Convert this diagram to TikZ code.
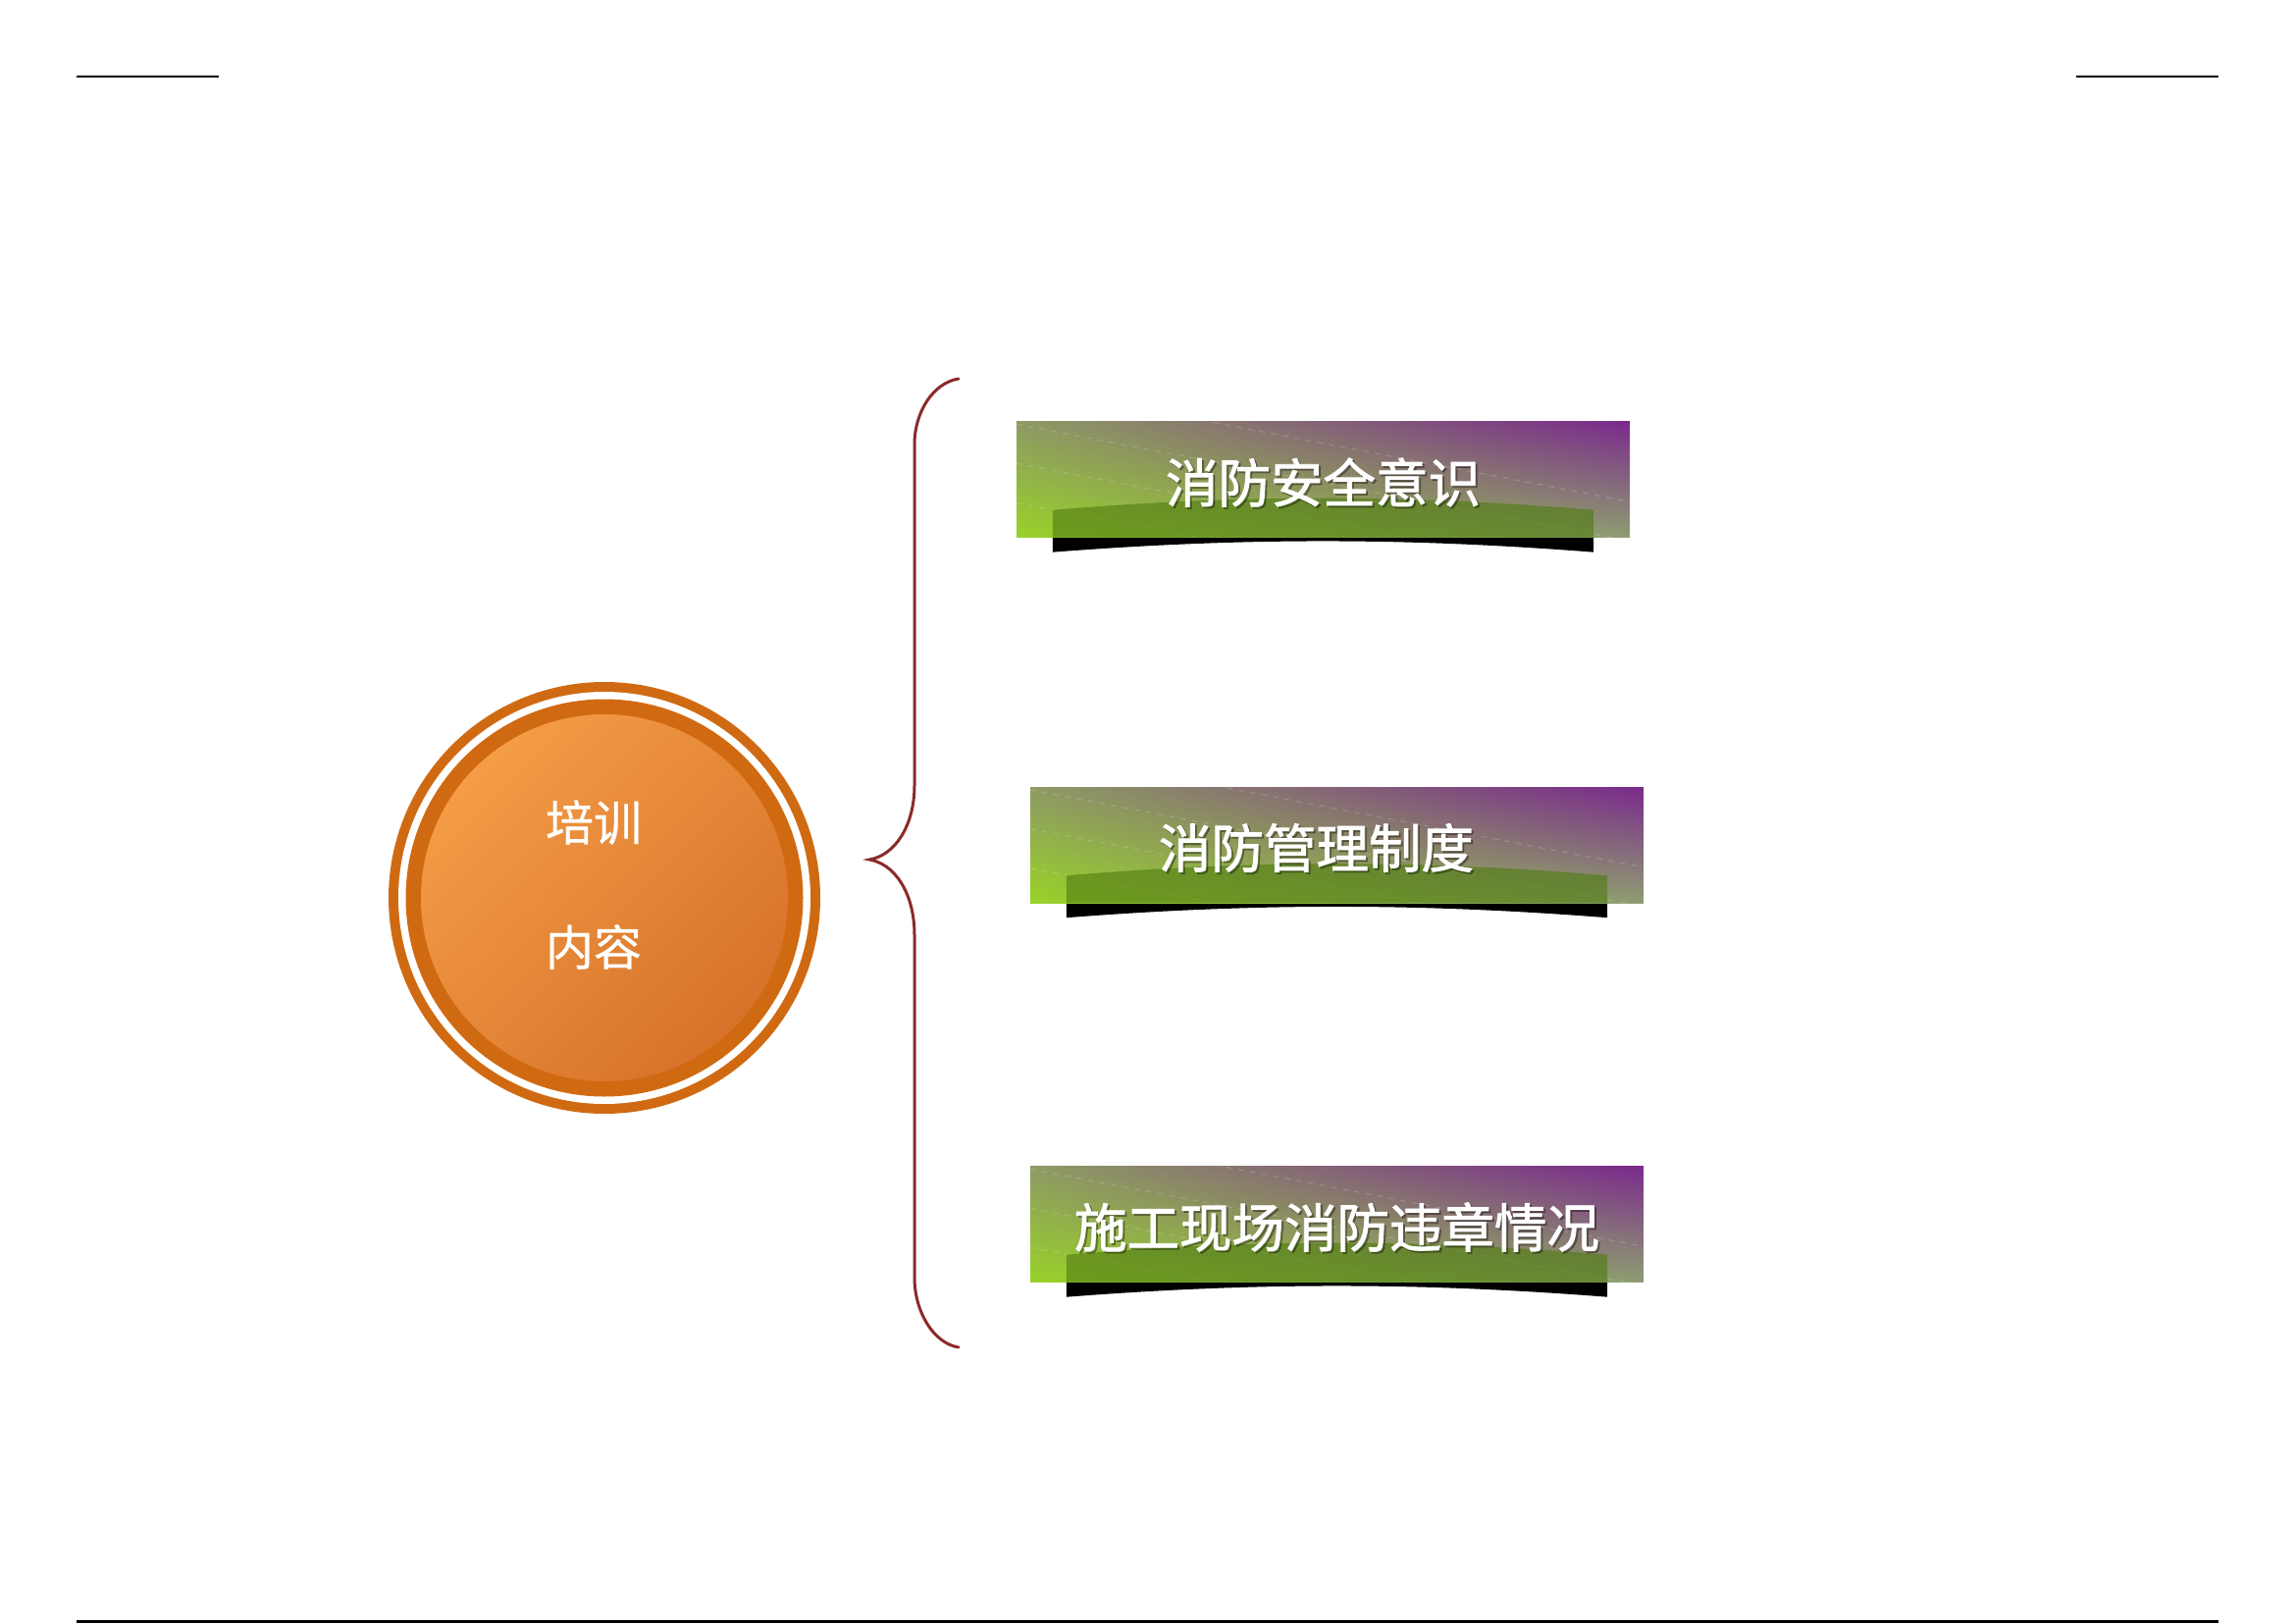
\documentclass[tikz,border=0pt]{standalone}
\usepackage{fontspec}
\newfontfamily\cjk[FakeBold=0.6]{Noto Sans CJK SC}
\newfontfamily\cjkb[FakeBold=1.5]{Noto Sans CJK SC}
\usetikzlibrary{calc,shadings}
\pgfdeclarelayer{paper}
\pgfdeclarelayer{background}
\pgfsetlayers{paper,background,main}
\definecolor{ringor}{HTML}{D06A12}
\definecolor{discA}{HTML}{F49C46}
\definecolor{discB}{HTML}{D6722A}
\definecolor{bracered}{HTML}{8B2A2A}
\definecolor{gUL}{HTML}{8E9A64}
\definecolor{gUR}{HTML}{7A2A8C}
\definecolor{gLL}{HTML}{98D228}
\definecolor{gLR}{HTML}{8E9C72}
\definecolor{ovl}{HTML}{4E7A10}
\tikzset{
  bannerbox/.style={rectangle, minimum width=625, minimum height=118, inner sep=0,
    shade, upper left=gUL, upper right=gUR, lower left=gLL, lower right=gLR},
  bantext/.style={text=white, inner sep=0, font=\cjkb\fontsize{53.5}{60}\selectfont},
  banshadow/.style={text=black, opacity=0.3, inner sep=0, font=\cjkb\fontsize{53.5}{60}\selectfont},
  circtext/.style={text=white, inner sep=0, font=\cjk\fontsize{49}{56}\selectfont},
  brace/.style={draw=bracered, line width=3, line cap=round},
  rule/.style={draw=black, line width=1.5},
}
\newcommand\mybanner[5]{%
  \node[bannerbox] (#1) at (#2,#3) {};
  \begin{scope}
    \clip (#1.south west) rectangle (#1.north east);
    \foreach \k in {-40,0,40,80} {
      \draw[white, opacity=0.18, dashed, line width=1, dash pattern=on 6 off 6]
        ($(#1.north west)+(0,\k+3)$) -- ($(#1.north east)+(0,\k+122)$);
    }
  \end{scope}
  \fill[ovl, opacity=0.6] ($(#1.south west)+(37,0)$) -- ($(#1.south west)+(37,-28)$)
    .. controls ($(#1.south west)+(230,-44)$) and ($(#1.south east)+(-230,-44)$) ..
    ($(#1.south east)+(-37,-28)$) -- ($(#1.south east)+(-37,0)$) -- cycle;
  \begin{pgfonlayer}{background}
    \fill[black] ($(#1.south west)+(37,-3)$) -- ($(#1.south west)+(37,15)$)
      .. controls ($(#1.south west)+(230,0)$) and ($(#1.south east)+(-230,0)$) ..
      ($(#1.south east)+(-37,15)$) -- ($(#1.south east)+(-37,-3)$) -- cycle;
  \end{pgfonlayer}
  \node[banshadow] (#1s) at ($(#1.center)+(#4+2,5)$) {#5};
  \node[bantext] (#1t) at ($(#1.center)+(#4,3)$) {#5};
}
\begin{document}
\begin{tikzpicture}[x=1pt,y=-1pt]
\useasboundingbox (0,0) rectangle (2339,1654);
\begin{pgfonlayer}{paper}
\fill[white] (0,0) rectangle (2339,1654);
\end{pgfonlayer}
% page rules
\coordinate (r1a) at (78,78); \coordinate (r1b) at (223,78);
\coordinate (r2a) at (2116,78); \coordinate (r2b) at (2261,78);
\coordinate (r3a) at (78,1652); \coordinate (r3b) at (2261,1652);
\draw[rule] (r1a) -- (r1b);
\draw[rule] (r2a) -- (r2b);
\draw[rule, line width=3] (r3a) -- (r3b);
% circle
\node[circle, fill=ringor, minimum size=440, inner sep=0] (cout) at (616,915) {};
\node[circle, fill=white, minimum size=420, inner sep=0] (cgap) at (cout.center) {};
\node[circle, fill=ringor, minimum size=405, inner sep=0] (cring) at (cout.center) {};
\shade[top color=discA, bottom color=discB, shading angle=45] (cout.center) circle (187);
\node[circtext] (ct1) at (605,838) {培训};
\node[circtext] (ct2) at (605,965) {内容};
% brace
\coordinate (bt) at (977,386);
\coordinate (bu1) at (932,453);
\coordinate (bu2) at (932,800);
\coordinate (tip) at (886,876);
\coordinate (bl1) at (932,953);
\coordinate (bl2) at (932,1302);
\coordinate (bb) at (977,1373);
\draw[brace] (bt) .. controls (951,390) and (932,420) .. (bu1) -- (bu2)
  .. controls (932,843) and (911,872) .. (tip)
  .. controls (911,880) and (932,909) .. (bl1) -- (bl2)
  .. controls (932,1336) and (951,1369) .. (bb);
% banners
\mybanner{b1}{1348.5}{488.5}{0}{消防安全意识}
\mybanner{b2}{1362.5}{861}{-21}{消防管理制度}
\mybanner{b3}{1362.5}{1247.5}{0}{施工现场消防违章情况}
\end{tikzpicture}
\end{document}
